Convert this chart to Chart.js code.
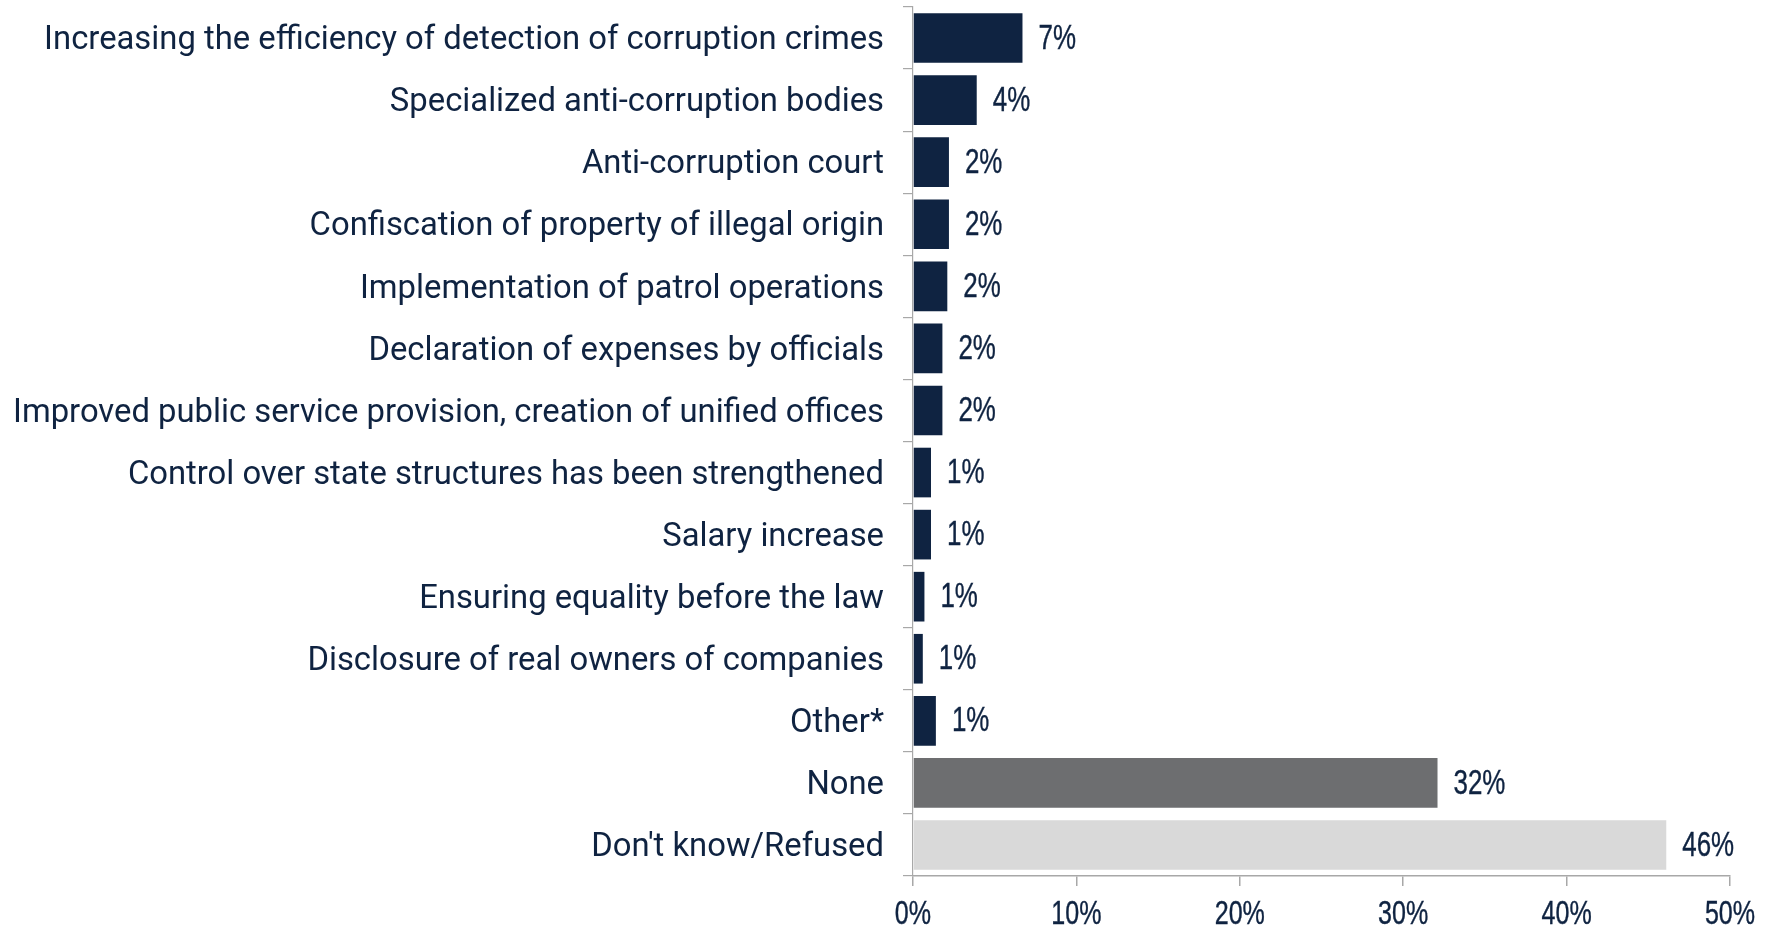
<!DOCTYPE html>
<html>
<head>
<meta charset="utf-8">
<script src="https://cdn.jsdelivr.net/npm/chart.js@4.4.1/dist/chart.umd.min.js"></script>
<style>
  html, body { margin: 0; padding: 0; background: #ffffff; }
  #wrap { width: 1774px; height: 931px; position: relative; }
</style>
</head>
<body>
<div id="wrap"><canvas id="chart"></canvas></div>
<script>
// Réponses (catégories) et valeurs en %
const categories = [
    "Increasing the efficiency of detection of corruption crimes",
    "Specialized anti-corruption bodies",
    "Anti-corruption court",
    "Confiscation of property of illegal origin",
    "Implementation of patrol operations",
    "Declaration of expenses by officials",
    "Improved public service provision, creation of unified offices",
    "Control over state structures has been strengthened",
    "Salary increase",
    "Ensuring equality before the law",
    "Disclosure of real owners of companies",
    "Other*",
    "None",
    "Don't know/Refused"
];
const values = [6.7, 3.9, 2.2, 2.2, 2.1, 1.8, 1.8, 1.1, 1.1, 0.7, 0.6, 1.4, 32.1, 46.1];
const valueLabels = ["7%", "4%", "2%", "2%", "2%", "2%", "2%", "1%", "1%", "1%", "1%", "1%", "32%", "46%"];
const xTicks = [0, 10, 20, 30, 40, 50];

const navy = '#0f2341';
const barColors = categories.map(c => {
    if (c === "None") return '#6d6e70';
    if (c === "Don't know/Refused") return '#d9d9d9';
    return navy;
});

const axisGray = '#a8a8a8';
const numFont = "'Liberation Sans', Arial, sans-serif";

// texte compressé horizontalement (police étroite), légèrement épaissi
function narrowText(ctx, text, x, y, align, squeeze) {
    ctx.save();
    ctx.translate(x, y);
    ctx.scale(squeeze, 1);
    ctx.textAlign = align;
    ctx.fillText(text, 0, 0);
    ctx.lineWidth = 0.4;
    ctx.strokeStyle = navy;
    ctx.strokeText(text, 0, 0);
    ctx.restore();
}

// Étiquettes de valeur au bout des barres + graduations de l'axe x
const valueLabelPlugin = {
    id: 'valueLabels',
    afterDraw(chart) {
        const ctx = chart.ctx;
        const meta = chart.getDatasetMeta(0);
        const xScale = chart.scales.x;
        ctx.save();
        ctx.fillStyle = navy;
        ctx.textBaseline = 'middle';
        ctx.font = '35px ' + numFont;
        meta.data.forEach((bar, i) => {
            narrowText(ctx, valueLabels[i], bar.x + 16, bar.y + 1, 'left', 0.74);
        });
        ctx.font = '32.6px ' + numFont;
        xScale.ticks.forEach(t => {
            const px = xScale.getPixelForValue(t.value);
            narrowText(ctx, t.value + '%', px, chart.chartArea.bottom + 39, 'center', 0.77);
        });
        ctx.restore();
    }
};

const ctx = document.getElementById('chart').getContext('2d');
new Chart(ctx, {
    type: 'bar',
    data: {
        labels: categories,
        datasets: [{
            data: values,
            backgroundColor: barColors,
            borderWidth: 0,
            barPercentage: 0.8,
            categoryPercentage: 1.0
        }]
    },
    options: {
        indexAxis: 'y',
        responsive: true,
        maintainAspectRatio: false,
        animation: false,
        layout: {
            padding: { top: 7, right: 44, left: 0, bottom: 0 }
        },
        plugins: {
            legend: { display: false },
            tooltip: { enabled: false }
        },
        scales: {
            x: {
                min: 0,
                max: 50,
                afterBuildTicks: function(scale) {
                    scale.ticks = xTicks.map(v => ({ value: v }));
                },
                afterFit: function(scale) {
                    scale.height = 55;
                    scale.paddingLeft = 0;
                    scale.paddingRight = 0;
                },
                grid: {
                    drawOnChartArea: false,
                    drawTicks: true,
                    tickLength: 10,
                    color: axisGray,
                    lineWidth: 1.5
                },
                border: { color: axisGray, width: 1.5 },
                ticks: {
                    padding: 7,
                    color: 'rgba(0,0,0,0)',
                    font: { family: numFont, size: 32 },
                    maxRotation: 0,
                    callback: function(v) { return v + '%'; }
                }
            },
            y: {
                afterFit: function(scale) {
                    scale.width = 913;
                    scale.paddingTop = 0;
                    scale.paddingBottom = 0;
                },
                grid: {
                    offset: true,
                    drawOnChartArea: false,
                    drawTicks: true,
                    tickLength: 10,
                    color: axisGray,
                    lineWidth: 1.2
                },
                border: { color: axisGray, width: 1.2 },
                ticks: {
                    padding: 19,
                    labelOffset: 3,
                    color: navy,
                    autoSkip: false,
                    font: { family: 'Roboto', size: 32.8 }
                }
            }
        }
    },
    plugins: [valueLabelPlugin]
});
</script>
</body>
</html>
